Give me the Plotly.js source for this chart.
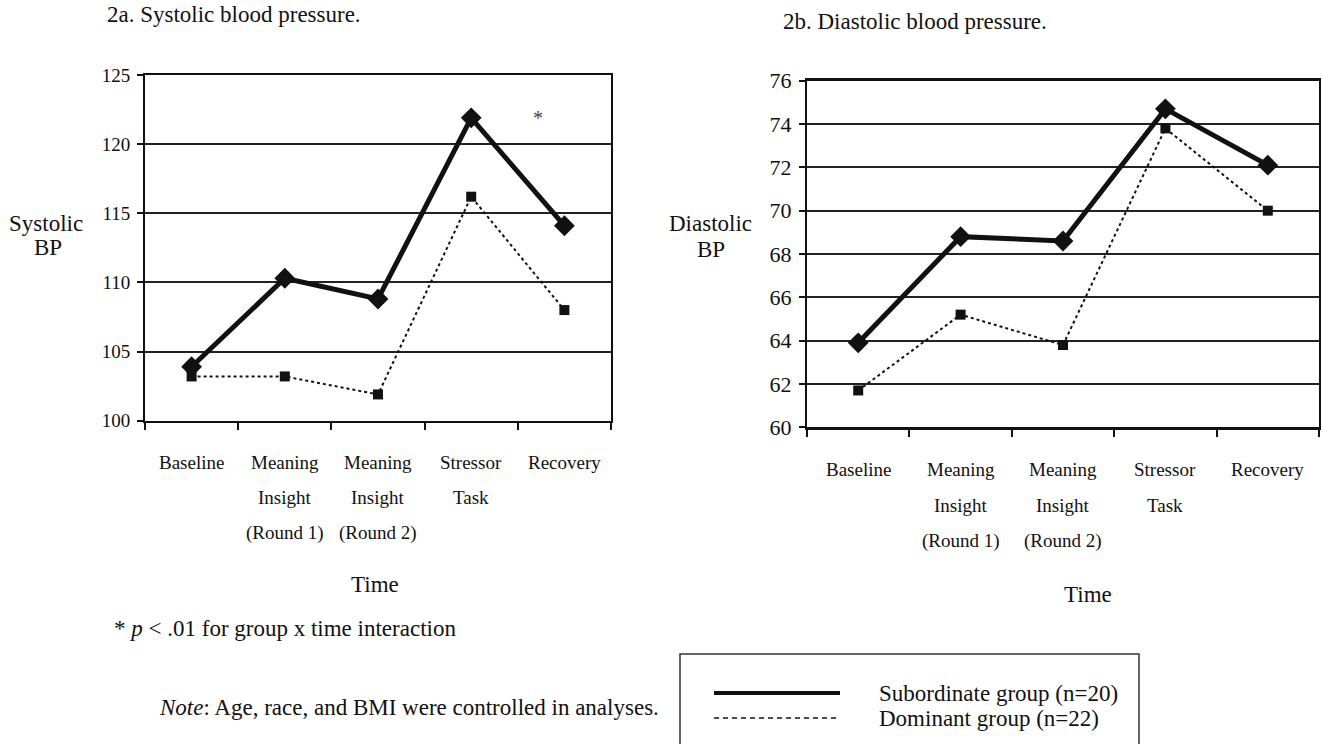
<!DOCTYPE html>
<html>
<head>
<meta charset="utf-8">
<script src="https://cdn.plot.ly/plotly-3.0.1.min.js"></script>
<style>html,body{margin:0;padding:0;background:#fff;}#chart{width:1322px;height:744px;}</style>
</head>
<body>
<div id="chart"></div>
<script>
// ---- data ----
const categories = ["Baseline", "Meaning Insight (Round 1)", "Meaning Insight (Round 2)", "Stressor Task", "Recovery"];
const tickLines = [["Baseline"], ["Meaning", "Insight", "(Round 1)"], ["Meaning", "Insight", "(Round 2)"], ["Stressor", "Task"], ["Recovery"]];
const systolicSubordinate = [103.9, 110.3, 108.8, 121.9, 114.1];
const systolicDominant = [103.2, 103.2, 101.9, 116.2, 108.0];
const diastolicSubordinate = [63.9, 68.8, 68.6, 74.7, 72.1];
const diastolicDominant = [61.7, 65.2, 63.8, 73.8, 70.0];
const systolicTicks = [100, 105, 110, 115, 120, 125];
const diastolicTicks = [60, 62, 64, 66, 68, 70, 72, 74, 76];
const seriesNames = ["Subordinate group (n=20)", "Dominant group (n=22)"];

// ---- layout helpers ----
const W = 1322, H = 744;
const px = v => v / W;
const py = v => 1 - v / H;
const FONT = "Liberation Serif";
const INK = "#111";

function subTrace(y, xa, ya) {
  return {x: categories, y: y, xaxis: xa, yaxis: ya, type: "scatter", mode: "lines+markers",
    name: seriesNames[0], showlegend: false, cliponaxis: false,
    line: {color: INK, width: 5}, marker: {symbol: "diamond", size: 16, color: INK}};
}
function domTrace(y, xa, ya) {
  return {x: categories, y: y, xaxis: xa, yaxis: ya, type: "scatter", mode: "lines+markers",
    name: seriesNames[1], showlegend: false, cliponaxis: false,
    line: {color: INK, width: 2, dash: "dot"}, marker: {symbol: "square", size: 10, color: INK}};
}

const data = [
  subTrace(systolicSubordinate, "x", "y"),
  domTrace(systolicDominant, "x", "y"),
  subTrace(diastolicSubordinate, "x2", "y2"),
  domTrace(diastolicDominant, "x2", "y2")
];

function xAxis(domain) {
  return {domain: domain, type: "category", categoryarray: categories, categoryorder: "array",
    range: [-0.5, 4.5], tickson: "boundaries", ticks: "outside", ticklen: 7, tickwidth: 2,
    tickcolor: INK, showticklabels: false, showgrid: false, zeroline: false,
    showline: true, linewidth: 2.5, linecolor: INK, mirror: true, fixedrange: true};
}
function yAxis(domain, range, ticks, fs) {
  return {domain: domain, range: range, tickmode: "array", tickvals: ticks, ticktext: ticks.map(String),
    ticks: "outside", ticklen: 6, tickwidth: 2, tickcolor: INK, ticklabelstandoff: 3,
    tickfont: {family: FONT, size: fs, color: INK},
    showgrid: true, gridcolor: "#222", gridwidth: 2, zeroline: false,
    showline: true, linewidth: 2, linecolor: INK, mirror: true, fixedrange: true};
}

const annotations = [];
function txt(text, x, y, opts) {
  annotations.push(Object.assign({text: text, x: px(x), y: py(y), xref: "paper", yref: "paper",
    showarrow: false, xanchor: "center", yanchor: "middle",
    font: {family: FONT, size: 23, color: INK}}, opts || {}));
}

// category labels (one annotation per line so spacing matches)
function catLabels(xref, bottomPx, firstGap, lineGap) {
  tickLines.forEach((lines, i) => {
    lines.forEach((ln, j) => {
      annotations.push({text: ln, x: categories[i], xref: xref, y: py(bottomPx), yref: "paper",
        yanchor: "middle", xanchor: "center", yshift: -(firstGap + lineGap * j), showarrow: false,
        font: {family: FONT, size: 19, color: INK}});
    });
  });
}
catLabels("x", 420.7, 42, 35);
catLabels("x2", 427.3, 42, 36);

// titles
txt("2a. Systolic blood pressure.", 234, 15);
txt("2b. Diastolic blood pressure.", 915, 22);
// y-axis titles
txt("Systolic", 46, 224);
txt("BP", 48, 248);
txt("Diastolic", 710, 224);
txt("BP", 711, 250);
// x-axis titles
txt("Time", 375, 584);
txt("Time", 1088, 594);
// significance marker
annotations.push({text: "*", x: 3.72, y: 121.9, xref: "x", yref: "y", showarrow: false,
  xanchor: "center", yanchor: "middle", font: {family: FONT, size: 20, color: "#444"}});
// notes
txt("* <i>p</i> &lt; .01 for group x time interaction", 112, 628, {xanchor: "left"});
txt("<i>Note</i>: Age, race, and BMI were controlled in analyses.", 157, 707, {xanchor: "left"});
// legend text
txt(seriesNames[0], 877, 693, {xanchor: "left"});
txt(seriesNames[1], 877, 718, {xanchor: "left"});

const shapes = [
  {type: "rect", xref: "paper", yref: "paper", x0: px(680), x1: px(1139), y0: -0.1, y1: py(654),
    line: {color: "#333", width: 1.5}, fillcolor: "rgba(0,0,0,0)"},
  {type: "line", xref: "paper", yref: "paper", x0: px(714), x1: px(840), y0: py(693), y1: py(693),
    line: {color: INK, width: 4}},
  {type: "line", xref: "paper", yref: "paper", x0: px(714), x1: px(840), y0: py(718), y1: py(718),
    line: {color: INK, width: 1.5, dash: "5px,4px"}}
];

const layout = {
  width: W, height: H, margin: {l: 0, r: 0, t: 0, b: 0},
  paper_bgcolor: "#fff", plot_bgcolor: "#fff",
  font: {family: FONT, size: 23, color: INK},
  showlegend: false,
  xaxis: xAxis([px(145), px(611)]),
  yaxis: yAxis([py(420.7), py(75)], [100, 125], systolicTicks, 19),
  xaxis2: xAxis([px(807), px(1319)]),
  yaxis2: yAxis([py(427.3), py(80.7)], [60, 76], diastolicTicks, 22),
  annotations: annotations,
  shapes: shapes
};
layout.xaxis2.anchor = "y2";
layout.yaxis2.anchor = "x2";

Plotly.newPlot("chart", data, layout, {staticPlot: true, displayModeBar: false});
</script>
</body>
</html>
